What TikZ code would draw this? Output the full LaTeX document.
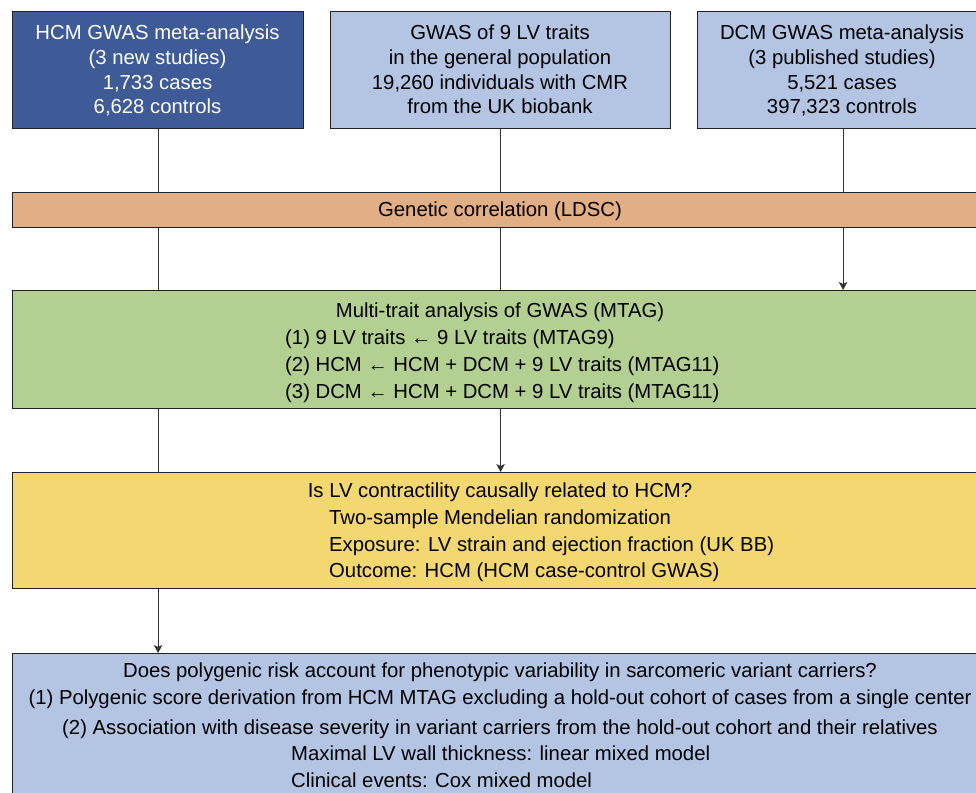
\documentclass[tikz,border=0pt]{standalone}
\usepackage{fontspec}
\setmainfont{Liberation Sans}
\usetikzlibrary{arrows.meta}
\definecolor{dblue}{HTML}{3E5A97}
\definecolor{lblue}{HTML}{B4C5E4}
\definecolor{lorange}{HTML}{E2AE85}
\definecolor{lgreen}{HTML}{B3D092}
\definecolor{lyellow}{HTML}{F3D771}
\definecolor{edge}{HTML}{222222}
\definecolor{conn}{HTML}{333333}
\newcommand{\larr}{{\fontsize{20.3}{20}\selectfont ←}}
\tikzset{
  boxshape/.style={draw=edge, line width=1.2pt, rectangle, inner sep=0pt, anchor=north west},
  txt/.style={inner sep=0pt, anchor=base, font=\fontsize{20.3}{24}\selectfont},
  txtl/.style={txt, anchor=base west},
  link/.style={draw=conn, line width=1.1pt},
  arr/.style={link, -{Stealth[length=8pt,width=8.5pt,inset=2pt]}}
}
\begin{document}
\begin{tikzpicture}[x=1pt,y=-1pt]
\useasboundingbox (0,0) rectangle (976,792);
\clip (0,0) rectangle (976,792);
% boxes
\node[boxshape, fill=dblue, minimum width=291pt, minimum height=117pt] (b1) at (12,11) {};
\node[boxshape, fill=lblue, minimum width=340pt, minimum height=117pt] (b2) at (330,11) {};
\node[boxshape, fill=lblue, minimum width=291pt, minimum height=117pt] (b3) at (697,11) {};
\node[boxshape, fill=lorange, minimum width=976pt, minimum height=35pt] (ldsc) at (12,192) {};
\node[boxshape, fill=lgreen, minimum width=976pt, minimum height=118pt] (mtag) at (12,290) {};
\node[boxshape, fill=lyellow, minimum width=976pt, minimum height=116pt] (mr) at (12,472) {};
\node[boxshape, fill=lblue, minimum width=976pt, minimum height=180pt] (prs) at (12,653) {};
% texts box 1
\node[txt, text=white] (t11) at (157.5,40) {HCM GWAS meta-analysis};
\node[txt, text=white] (t12) at (157.5,64) {(3 new studies)};
\node[txt, text=white] (t13) at (157.5,89) {1,733 cases};
\node[txt, text=white] (t14) at (157.5,113) {6,628 controls};
% box 2
\node[txt] (t21) at (500,40) {GWAS of 9 LV traits};
\node[txt] (t22) at (500,64) {in the general population};
\node[txt] (t23) at (500,89) {19,260 individuals with CMR};
\node[txt] (t24) at (500,113) {from the UK biobank};
% box 3
\node[txt] (t31) at (842,40) {DCM GWAS meta-analysis};
\node[txt] (t32) at (842,64) {(3 published studies)};
\node[txt] (t33) at (842,89) {5,521 cases};
\node[txt] (t34) at (842,113) {397,323 controls};
% ldsc
\node[txt] (tl) at (500,216.5) {Genetic correlation (LDSC)};
% mtag
\node[txt] (tm0) at (500,317) {Multi-trait analysis of GWAS (MTAG)};
\node[txtl] (tm1) at (285,344) {(1) 9 LV traits \larr\ 9 LV traits (MTAG9)};
\node[txtl] (tm2) at (285,371) {(2) HCM \larr\ HCM + DCM + 9 LV traits (MTAG11)};
\node[txtl] (tm3) at (285,398) {(3) DCM \larr\ HCM + DCM + 9 LV traits (MTAG11)};
% mr
\node[txt] (tr0) at (500,497.5) {Is LV contractility causally related to HCM?};
\node[txtl] (tr1) at (329,524.5) {Two-sample Mendelian randomization};
\node[txtl] (tr2) at (329,551) {Exposure: LV strain and ejection fraction (UK BB)};
\node[txtl] (tr3) at (329,577.5) {Outcome: HCM (HCM case-control GWAS)};
% prs
\node[txt] (tp0) at (500,677.5) {Does polygenic risk account for phenotypic variability in sarcomeric variant carriers?};
\node[txt] (tp1) at (500,704) {(1) Polygenic score derivation from HCM MTAG excluding a hold-out cohort of cases from a single center};
\node[txt] (tp2) at (500,734) {(2) Association with disease severity in variant carriers from the hold-out cohort and their relatives};
\node[txtl] (tp3) at (291,760.5) {Maximal LV wall thickness: linear mixed model};
\node[txtl] (tp4) at (291,787.5) {Clinical events: Cox mixed model};
% connectors
\draw[link] (b1.south) -- (b1.south |- ldsc.north);
\draw[link] (b2.south) -- (b2.south |- ldsc.north);
\draw[link] (b3.south) -- (b3.south |- ldsc.north);
\draw[link] (ldsc.south -| b1.south) -- (mtag.north -| b1.south);
\draw[link] (ldsc.south -| b2.south) -- (mtag.north -| b2.south);
\draw[arr] (ldsc.south -| b3.south) -- (mtag.north -| b3.south);
\draw[link] (mtag.south -| b1.south) -- (mr.north -| b1.south);
\draw[arr] (mtag.south -| b2.south) -- (mr.north -| b2.south);
\draw[arr] (mr.south -| b1.south) -- (prs.north -| b1.south);
\end{tikzpicture}
\end{document}
